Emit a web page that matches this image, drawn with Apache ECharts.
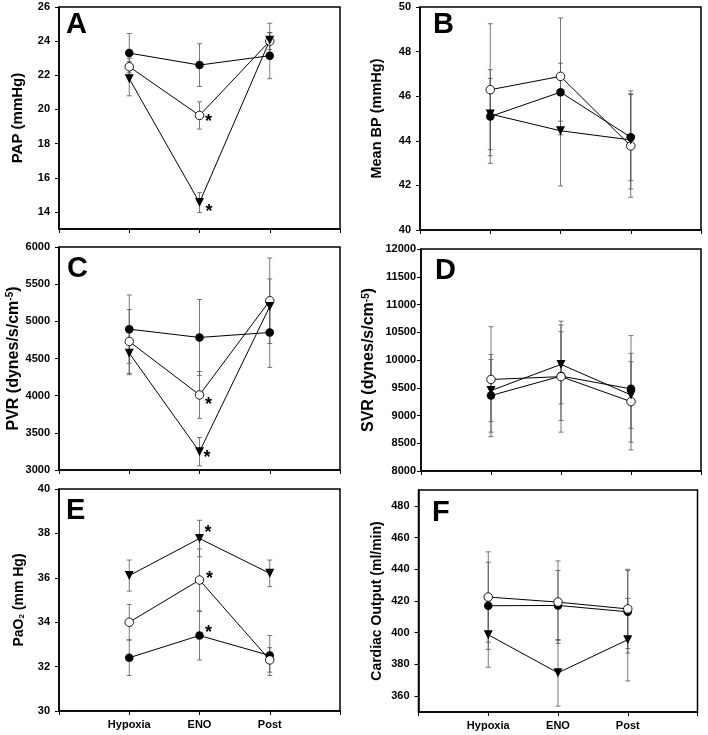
<!DOCTYPE html>
<html><head><meta charset="utf-8">
<script src="https://cdn.jsdelivr.net/npm/echarts@6/dist/echarts.min.js"></script>
<style>html,body{margin:0;padding:0;background:#fff}#c{width:708px;height:735px}</style>
</head><body><div id="c"></div>
<script>
const categories = ['Hypoxia', 'ENO', 'Post'];

// Panel A: PAP (mmHg)
const papTicks = [14, 16, 18, 20, 22, 24, 26];
const papFilled = [23.3, 22.6, 23.15];   const papFilledSD = [1.15, 1.25, 1.35];
const papOpen = [22.5, 19.65, 24.0];     const papOpenSD = [0.5, 0.8, 0.5];
const papTri = [21.8, 14.55, 24.05];     const papTriSD = [1.0, 0.58, 1.0];

// Panel B: Mean BP (mmHg)
const bpTicks = [40, 42, 44, 46, 48, 50];
const bpFilled = [45.09, 46.18, 44.16];  const bpFilledSD = [2.1, 1.3, 1.95];
const bpOpen = [46.29, 46.89, 43.77];    const bpOpenSD = [2.96, 2.62, 2.3];
const bpTri = [45.2, 44.45, 44.04];      const bpTriSD = [1.6, 2.47, 2.2];

// Panel C: PVR
const pvrTicks = [3000, 3500, 4000, 4500, 5000, 5500, 6000];
const pvrFilled = [4895, 4783, 4850];    const pvrFilledSD = [460, 510, 470];
const pvrOpen = [4729, 4010, 5277];      const pvrOpenSD = [430, 315, 575];
const pvrTri = [4572, 3247, 5200];       const pvrTriSD = [290, 190, 370];

// Panel D: SVR
const svrTicks = [8000, 8500, 9000, 9500, 10000, 10500, 11000, 11500, 12000];
const svrFilled = [9360, 9710, 9480];    const svrFilledSD = [740, 800, 960];
const svrOpen = [9650, 9700, 9250];      const svrOpenSD = [950, 1000, 870];
const svrTri = [9450, 9920, 9370];       const svrTriSD = [560, 710, 600];

// Panel E: PaO2 (mm Hg)
const paoTicks = [30, 32, 34, 36, 38, 40];
const paoFilled = [32.4, 33.4, 32.5];    const paoFilledSD = [0.8, 1.1, 0.9];
const paoOpen = [34.0, 35.9, 32.3];      const paoOpenSD = [0.8, 1.4, 0.55];
const paoTri = [36.1, 37.77, 36.2];      const paoTriSD = [0.7, 0.82, 0.6];

// Panel F: Cardiac Output (ml/min)
const coTicks = [360, 380, 400, 420, 440, 460, 480];
const coFilled = [417, 417.2, 413.2];    const coFilledSD = [27.5, 22, 26];
const coOpen = [422.5, 419.3, 415];      const coOpenSD = [28.5, 26, 25];
const coTri = [398.7, 374.7, 395.6];     const coTriSD = [20.5, 21, 26];

const FONT = 'Liberation Sans, Arial, sans-serif';

const panels = [
  { letter: 'A', grid: { left: 59, top: 7, width: 281, height: 222 }, min: 13, max: 26, ticks: papTicks,
    name: '{n|PAP (mmHg)}', nameSize: 15, nameGap: 34, labelMargin: 9, showCat: false, letterPos: [66, 10],
    groups: [[papFilled, papFilledSD, 'filled'], [papOpen, papOpenSD, 'open'], [papTri, papTriSD, 'tri']],
    stars: { open: [9, 3.5], tri: [9.5, 7] } },
  { letter: 'B', grid: { left: 420, top: 7, width: 281, height: 223 }, min: 40, max: 50, ticks: bpTicks,
    name: '{n|Mean BP (mmHg)}', nameSize: 14.5, nameGap: 36, labelMargin: 9, showCat: false, letterPos: [433, 10],
    groups: [[bpFilled, bpFilledSD, 'filled'], [bpOpen, bpOpenSD, 'open'], [bpTri, bpTriSD, 'tri']],
    stars: {} },
  { letter: 'C', grid: { left: 59, top: 247, width: 281, height: 223 }, min: 3000, max: 6000, ticks: pvrTicks,
    name: '{n|PVR (dynes/s/cm}{s|-5}{n|)}', nameSize: 16, nameGap: 35, labelMargin: 9, showCat: false, letterPos: [67, 254],
    groups: [[pvrFilled, pvrFilledSD, 'filled'], [pvrOpen, pvrOpenSD, 'open'], [pvrTri, pvrTriSD, 'tri']],
    stars: { open: [9, 7.5], tri: [7.5, 3] } },
  { letter: 'D', grid: { left: 421, top: 249, width: 280, height: 222 }, min: 8000, max: 12000, ticks: svrTicks,
    name: '{n|SVR (dynes/s/cm}{s|-5}{n|)}', nameSize: 16, nameGap: 44, labelMargin: 5, showCat: false, letterPos: [435, 256],
    groups: [[svrFilled, svrFilledSD, 'filled'], [svrOpen, svrOpenSD, 'open'], [svrTri, svrTriSD, 'tri']],
    stars: {} },
  { letter: 'E', grid: { left: 59, top: 489, width: 281, height: 222 }, min: 30, max: 40, ticks: paoTicks,
    name: '{n|PaO}{b|2}{n| (mm Hg)}', nameSize: 14, nameGap: 33, labelMargin: 9, showCat: true, letterPos: [66, 496],
    groups: [[paoFilled, paoFilledSD, 'filled'], [paoOpen, paoOpenSD, 'open'], [paoTri, paoTriSD, 'tri']],
    stars: { filled: [9, -5.5], open: [10, -3.5], tri: [8.5, -8] } },
  { letter: 'F', grid: { left: 418.5, top: 490, width: 279, height: 222 }, min: 350, max: 490, ticks: coTicks,
    name: '{n|Cardiac Output (ml/min)}', nameSize: 14, nameGap: 34, labelMargin: 9, showCat: true, letterPos: [432, 498],
    groups: [[coFilled, coFilledSD, 'filled'], [coOpen, coOpenSD, 'open'], [coTri, coTriSD, 'tri']],
    stars: {} }
];

const grids = [], xAxes = [], yAxes = [], series = [], titles = [];
panels.forEach((p, i) => {
  grids.push(Object.assign({ show: true, borderColor: '#000', borderWidth: 1.5, backgroundColor: '#fff' }, p.grid));
  titles.push({ text: p.letter, left: p.letterPos[0], top: p.letterPos[1], padding: 0,
    textStyle: { fontFamily: FONT, fontSize: 29, fontWeight: 'bold', color: '#000' } });
  xAxes.push({
    type: 'value', gridIndex: i, min: 0, max: 4, interval: 1,
    axisLine: { show: true, lineStyle: { color: '#000', width: 1.5 } },
    axisTick: { show: true, length: 4, lineStyle: { color: '#000', width: 1 } },
    axisLabel: { show: p.showCat, margin: 8, color: '#000', fontFamily: FONT, fontWeight: 'bold', fontSize: 11,
      formatter: v => categories[v - 1] || '' },
    splitLine: { show: false }
  });
  yAxes.push({
    type: 'value', gridIndex: i, min: p.min, max: p.max,
    name: p.name, nameLocation: 'middle', nameRotate: 90, nameGap: p.nameGap,
    nameTextStyle: { rich: {
      n: { fontFamily: FONT, fontWeight: 'bold', fontSize: p.nameSize, color: '#000' },
      s: { fontFamily: FONT, fontWeight: 'bold', fontSize: Math.round(p.nameSize * 0.6), color: '#000', verticalAlign: 'top' },
      b: { fontFamily: FONT, fontWeight: 'bold', fontSize: Math.round(p.nameSize * 0.6), color: '#000', verticalAlign: 'bottom' }
    } },
    axisLine: { show: true, lineStyle: { color: '#000', width: 1.5 } },
    axisTick: { show: true, length: 4, customValues: p.ticks, lineStyle: { color: '#000', width: 1 } },
    axisLabel: { customValues: p.ticks, margin: p.labelMargin, color: '#000', fontFamily: FONT, fontWeight: 'bold', fontSize: 11,
      formatter: v => String(v) },
    splitLine: { show: false }
  });
  // error bars
  p.groups.forEach(([mean, sd]) => {
    series.push({
      type: 'custom', xAxisIndex: i, yAxisIndex: i, z: 1, silent: true,
      data: mean.map((m, k) => [k + 1, m - sd[k], m + sd[k]]),
      renderItem: (params, api) => {
        const x = api.value(0);
        const lo = api.coord([x, api.value(1)]);
        const hi = api.coord([x, api.value(2)]);
        const st = { stroke: '#555', lineWidth: 0.8 };
        return { type: 'group', children: [
          { type: 'line', shape: { x1: lo[0], y1: lo[1], x2: hi[0], y2: hi[1] }, style: st },
          { type: 'line', shape: { x1: lo[0] - 2.5, y1: lo[1], x2: lo[0] + 2.5, y2: lo[1] }, style: st },
          { type: 'line', shape: { x1: hi[0] - 2.5, y1: hi[1], x2: hi[0] + 2.5, y2: hi[1] }, style: st }
        ] };
      }
    });
  });
  // lines with markers
  p.groups.forEach(([mean, sd, kind]) => {
    const star = p.stars[kind];
    const isOpen = kind === 'open';
    series.push({
      type: 'line', xAxisIndex: i, yAxisIndex: i, z: 3,
      symbol: kind === 'tri' ? 'triangle' : 'circle', symbolSize: kind === 'tri' ? 9 : 8.5,
      symbolRotate: kind === 'tri' ? 180 : 0,
      showAllSymbol: true,
      lineStyle: { color: '#000', width: 1 },
      itemStyle: isOpen ? { color: '#fff', borderColor: '#000', borderWidth: 0.9 } : { color: '#000', borderWidth: 0 },
      emphasis: { disabled: true },
      data: mean.map((m, k) => {
        const item = { value: [k + 1, m] };
        if (star && k === 1) {
          item.label = { show: true, formatter: '*', fontFamily: FONT, fontWeight: 'bold', fontSize: 18, color: '#000',
            position: 'inside', offset: [star[0], star[1] + 3] };
        }
        return item;
      })
    });
  });
});

const chart = echarts.init(document.getElementById('c'), null, { renderer: 'canvas' });
chart.setOption({
  animation: false,
  backgroundColor: '#fff',
  title: titles,
  grid: grids,
  xAxis: xAxes,
  yAxis: yAxes,
  series: series
});
</script>
</body></html>
